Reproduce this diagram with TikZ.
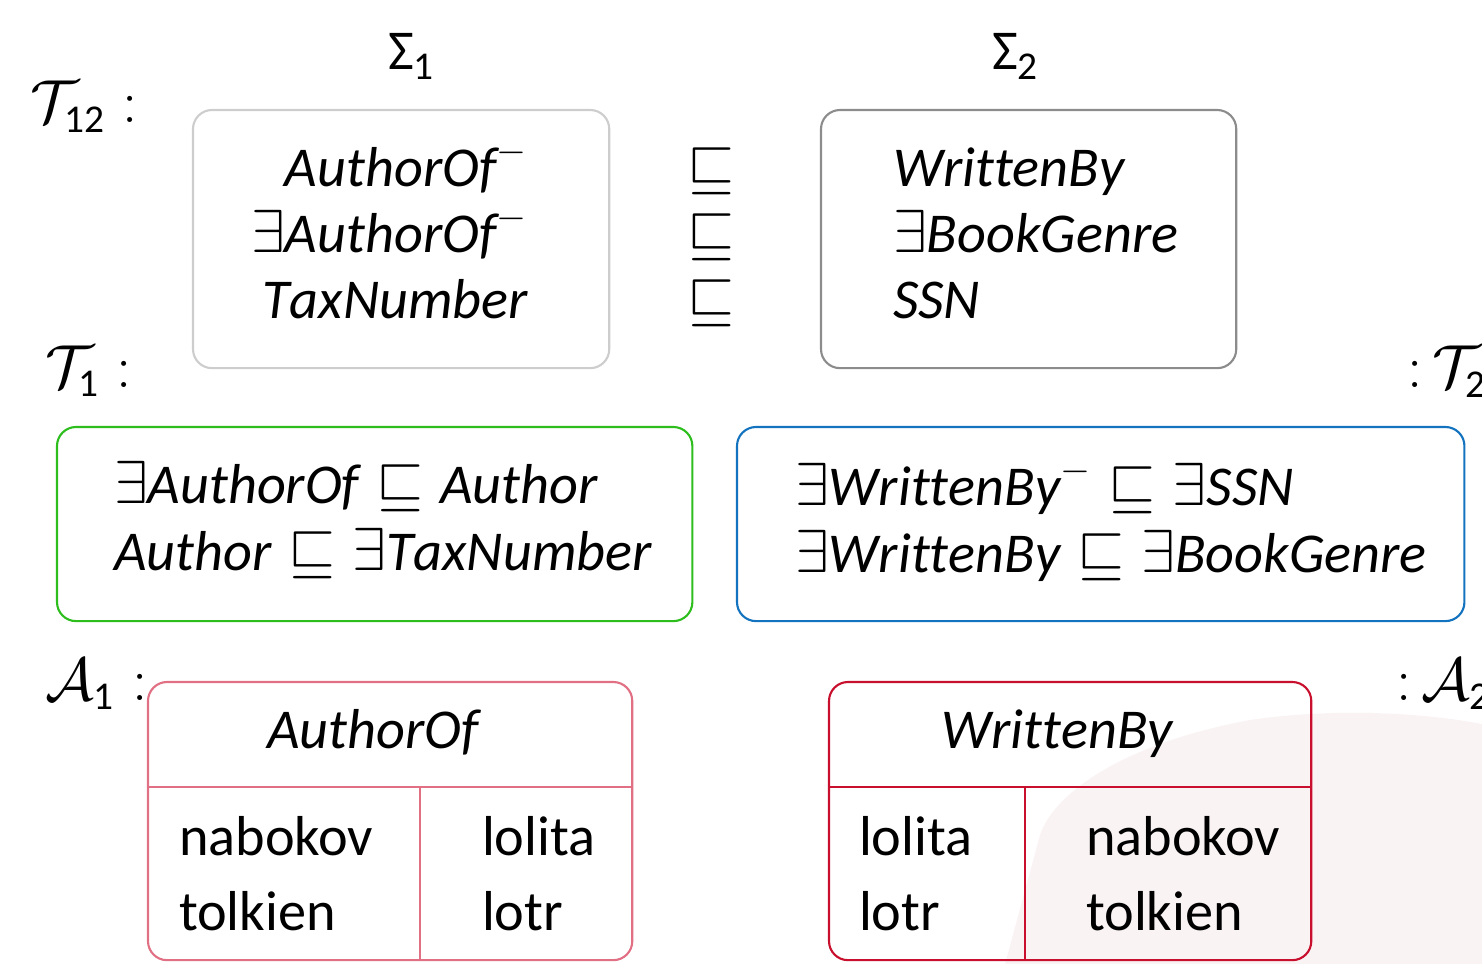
\documentclass[tikz,border=0pt]{standalone}
\usepackage{fontspec}
\setmainfont{Carlito}
\definecolor{sigonegray}{RGB}{205,205,205}
\definecolor{sigtwogray}{RGB}{140,140,140}
\definecolor{tboxgreen}{RGB}{45,190,30}
\definecolor{tboxblue}{RGB}{20,115,190}
\definecolor{aboxpink}{RGB}{225,112,132}
\definecolor{aboxred}{RGB}{200,16,46}
\definecolor{blobpink}{RGB}{250,243,244}
\newcommand{\dlfont}{\fontsize{16pt}{19pt}\selectfont}
\newcommand{\nm}[1]{\mathit{#1}}
\newcommand{\idx}[1]{\mathrm{#1}}
\tikzset{
  txt/.style={inner sep=0pt, outer sep=0pt, font=\dlfont},
  frame/.style={draw, rounded corners=0.19cm, line width=0.6pt,
    inner sep=0pt, outer sep=0pt, anchor=north west},
  rule/.style={line width=0.6pt}
}
\begin{document}
\begin{tikzpicture}[x=0.01cm, y=-0.01cm]
\useasboundingbox (0,0) rectangle (1482,964);

% soft background shape in the lower right corner
\fill[blobpink] (1005,964) -- (1040,835)
  .. controls (1055,790) and (1130,742) .. (1250,720)
  .. controls (1330,708) and (1420,712) .. (1482,724)
  -- (1482,964) -- cycle;

% signature headings
\node[txt, anchor=base west] (sigonelbl) at (388,70) {$\mbox{Σ}_{\idx{1}}$};
\node[txt, anchor=base west] (sigtwolbl) at (992,70) {$\mbox{Σ}_{\idx{2}}$};

% side labels
\node[txt, anchor=base west] (ttwelve) at (31,123) {$\mathcal{T}_{\idx{12}}:{}$};
\node[txt, anchor=base west] (tone) at (45,387) {$\mathcal{T}_{\idx{1}}:{}$};
\node[txt, anchor=base west] (ttwo) at (1407,388) {$\mathord{:}\,\mathcal{T}_{\idx{2}}$};
\node[txt, anchor=base west] (aone) at (45,700) {$\mathcal{A}_{\idx{1}}:{}$};
\node[txt, anchor=base west] (atwo) at (1396,700) {$\mathord{:}\,\mathcal{A}_{\idx{2}}$};

% mapping boxes between the two signatures
\node[frame, draw=sigonegray, minimum width=4.16cm, minimum height=2.58cm] (sigone) at (193,110) {};
\node[frame, draw=sigtwogray, minimum width=4.15cm, minimum height=2.58cm] (sigtwo) at (821,110) {};

\node[txt, anchor=base east] (lone) at (528,187) {$\nm{AuthorOf}^-$};
\node[txt, anchor=base east] (ltwo) at (528,253) {$\exists \nm{AuthorOf}^-$};
\node[txt, anchor=base east] (lthree) at (528,319) {$\nm{TaxNumber}$};
\node[txt, anchor=base] (sone) at (711,187) {$\sqsubseteq$};
\node[txt, anchor=base] (stwo) at (711,253) {$\sqsubseteq$};
\node[txt, anchor=base] (sthree) at (711,319) {$\sqsubseteq$};
\node[txt, anchor=base west] (rone) at (893,187) {$\nm{WrittenBy}$};
\node[txt, anchor=base west] (rtwo) at (893,253) {$\exists \nm{BookGenre}$};
\node[txt, anchor=base west] (rthree) at (893,319) {$\nm{SSN}$};

% TBoxes
\node[frame, draw=tboxgreen, minimum width=6.35cm, minimum height=1.94cm] (tbone) at (57,427) {};
\node[frame, draw=tboxblue, minimum width=7.27cm, minimum height=1.94cm] (tbtwo) at (737,427) {};

\node[txt, anchor=base west] (gone) at (114,503) {$\exists \nm{AuthorOf} \sqsubseteq \nm{Author}$};
\node[txt, anchor=base west] (gtwo) at (114,570) {$\nm{Author} \sqsubseteq \exists \nm{TaxNumber}$};
\node[txt, anchor=base west] (bone) at (795,505) {$\exists \nm{WrittenBy}^- \sqsubseteq \exists \nm{SSN}$};
\node[txt, anchor=base west] (btwo) at (795,572) {$\exists \nm{WrittenBy} \sqsubseteq \exists \nm{BookGenre}$};

% ABox tables
\node[frame, draw=aboxpink, minimum width=4.84cm, minimum height=2.78cm] (abone) at (148,682) {};
\draw[rule, aboxpink] (abone.west |- 0,787) -- (abone.east |- 0,787);
\draw[rule, aboxpink] (420,787) -- (abone.south -| 420,0);
\node[txt, anchor=base] (aonehead) at (373,748) {$\nm{AuthorOf}$};
\node[txt, anchor=base west] (aoneaa) at (179,855) {nabokov};
\node[txt, anchor=base west] (aoneba) at (179,930) {tolkien};
\node[txt, anchor=base west] (aoneab) at (482,855) {lolita};
\node[txt, anchor=base west] (aonebb) at (482,930) {lotr};

\node[frame, draw=aboxred, minimum width=4.82cm, minimum height=2.78cm] (abtwo) at (829,682) {};
\draw[rule, aboxred] (abtwo.west |- 0,787) -- (abtwo.east |- 0,787);
\draw[rule, aboxred] (1025,787) -- (abtwo.south -| 1025,0);
\node[txt, anchor=base] (atwohead) at (1057,748) {$\nm{WrittenBy}$};
\node[txt, anchor=base west] (atwoaa) at (859,855) {lolita};
\node[txt, anchor=base west] (atwoba) at (859,930) {lotr};
\node[txt, anchor=base west] (atwoab) at (1086,855) {nabokov};
\node[txt, anchor=base west] (atwobb) at (1086,930) {tolkien};
\end{tikzpicture}
\end{document}
